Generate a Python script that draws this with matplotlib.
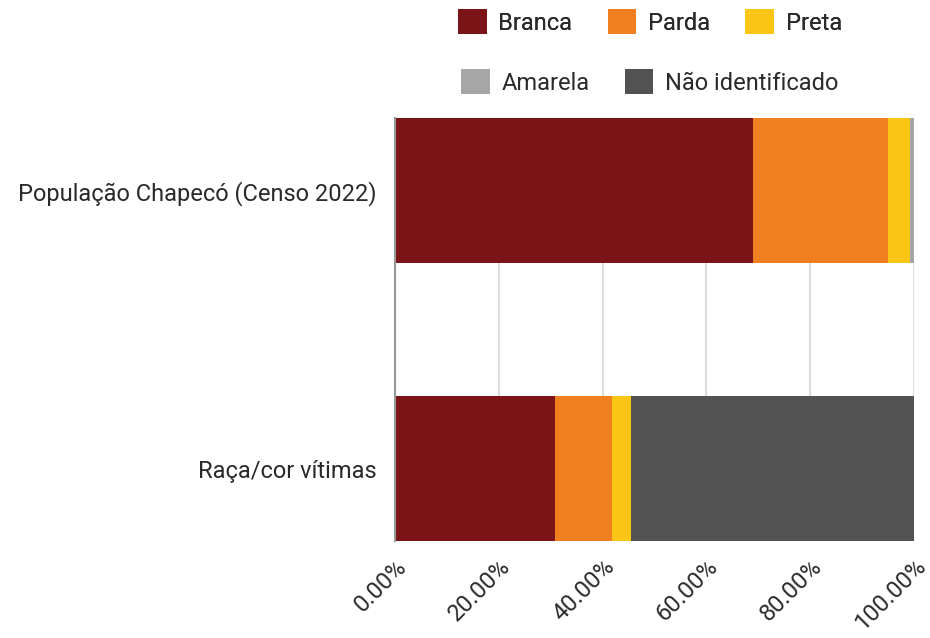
import numpy as np
import matplotlib
matplotlib.use('Agg')
import matplotlib.pyplot as plt
from matplotlib.patches import Patch

plt.rcParams['font.family'] = ['Roboto', 'DejaVu Sans']

# dados (percentuais)
categorias = ['População Chapecó (Censo 2022)', 'Raça/cor vítimas']
grupos = ['Branca', 'Parda', 'Preta', 'Amarela', 'Não identificado']
valores = {
    'Branca':           [69.0, 30.8],
    'Parda':            [25.9, 11.0],
    'Preta':            [4.3, 3.7],
    'Amarela':          [0.8, 0.0],
    'Não identificado': [0.0, 54.5],
}
cores = {
    'Branca': '#7a1416',
    'Parda': '#ef7f1f',
    'Preta': '#fac515',
    'Amarela': '#a6a6a6',
    'Não identificado': '#525252',
}
xticks = [0, 20, 40, 60, 80, 100]
xticklabels = ['0.00%', '20.00%', '40.00%', '60.00%', '80.00%', '100.00%']

FS = 17
TXT = '#2a2a2a'

fig = plt.figure(figsize=(9.3, 6.38), dpi=100)
ax = fig.add_axes([395/930, 1-541/638, (914-395)/930, (541-118.3)/638])

ypos = np.arange(len(categorias))
left = np.zeros(len(categorias))
for g in grupos:
    v = np.array(valores[g])
    ax.barh(ypos, v, left=left, height=0.52, color=cores[g], zorder=2)
    left += v

ax.set_xlim(0, 100)
ax.set_ylim(1.26, -0.26)
ax.set_yticks(ypos)
ax.set_yticklabels(categorias, fontsize=FS, color=TXT)
ax.set_xticks(xticks)
ax.set_xticklabels(xticklabels, fontsize=FS, color=TXT,
                   rotation=45, ha='right', rotation_mode='anchor')
ax.tick_params(axis='both', length=0)
ax.tick_params(axis='y', pad=13)
ax.tick_params(axis='x', pad=10)
ax.grid(axis='x', color='#dcdcdc', linewidth=1.5, zorder=0)
ax.set_axisbelow(True)
for s in ['top', 'right', 'bottom']:
    ax.spines[s].set_visible(False)
ax.spines['left'].set_color('#999999')
ax.spines['left'].set_linewidth(1.5)

def legenda(nomes, y):
    h = [Patch(facecolor=cores[n], edgecolor='none') for n in nomes]
    leg = fig.legend(h, nomes, loc='center', bbox_to_anchor=(650/930, 1-y/638),
                     ncol=len(nomes), frameon=False, fontsize=FS,
                     handlelength=1.2, handleheight=1.2, handletextpad=0.5,
                     columnspacing=1.5, borderaxespad=0)
    for t in leg.get_texts():
        t.set_color(TXT)
    return leg

l1 = legenda(grupos[:3], 22)
fig.add_artist(l1)
legenda(grupos[3:], 82)

fig.savefig('out.png', dpi=100)
